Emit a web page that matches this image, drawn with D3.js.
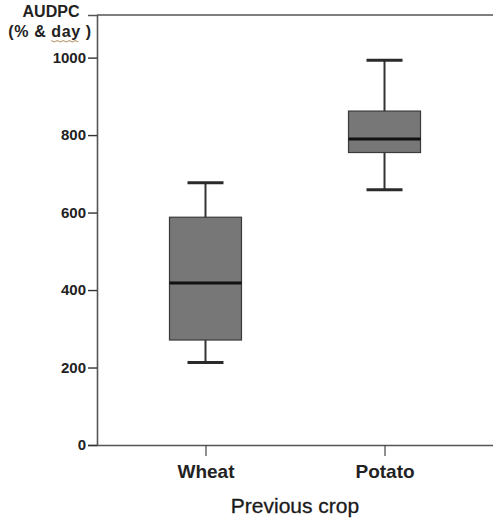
<!DOCTYPE html>
<html>
<head>
<meta charset="utf-8">
<script src="https://cdn.jsdelivr.net/npm/d3@7"></script>
<style>
  body { margin: 0; background: #fff; }
  svg { display: block; font-family: "Liberation Sans", Arial, sans-serif; }
</style>
</head>
<body>
<div id="chart"></div>
<script>
// box plot statistics
var crops   = ["Wheat", "Potato"];
var whiskLo = [213, 659];
var q1      = [271, 755];
var median  = [418, 790];
var q3      = [588, 862];
var whiskHi = [677, 993];
var yTicks  = [0, 200, 400, 600, 800, 1000];

var W = 493, H = 522;
var margin = {top: 15, right: 0, bottom: 77, left: 97},
  width = W - margin.left - margin.right,
  height = H - margin.top - margin.bottom;

var svg = d3.select("#chart")
  .append("svg")
    .attr("width", W)
    .attr("height", H)
  .append("g")
    .attr("transform", "translate(" + margin.left + "," + margin.top + ")");

var x = d3.scalePoint()
  .domain(crops)
  .range([0, width])
  .padding(0.606);

var y = d3.scaleLinear()
  .domain([0, 1110])
  .range([height, 0]);

var boxW = 72, capW = 36;
var axisCol = "#555";

// frame: top line
svg.append("line")
  .attr("x1", 0).attr("x2", width)
  .attr("y1", 0).attr("y2", 0)
  .style("stroke", axisCol).style("stroke-width", 1.6);

// y axis
var yAxis = svg.append("g")
  .call(d3.axisLeft(y).tickValues(yTicks).tickSize(9).tickPadding(2).tickFormat(d3.format("d")));
yAxis.select(".domain").style("stroke", axisCol).style("stroke-width", 1.6);
yAxis.selectAll(".tick line").style("stroke", "#333").style("stroke-width", 1.4);
yAxis.selectAll("text")
  .style("font-size", "15px").style("font-weight", "bold").style("fill", "#222")
  .style("font-family", "Liberation Sans, Arial, sans-serif");

// x axis
var xAxis = svg.append("g")
  .attr("transform", "translate(0," + height + ")")
  .call(d3.axisBottom(x).tickSize(11).tickSizeOuter(0).tickPadding(9));
xAxis.select(".domain").style("stroke", axisCol).style("stroke-width", 1.6);
xAxis.selectAll(".tick line").style("stroke", "#444").style("stroke-width", 1.2);
xAxis.selectAll("text")
  .style("font-size", "19px").style("font-weight", "bold").style("fill", "#222")
  .style("font-family", "Liberation Sans, Arial, sans-serif");

// boxes
var data = crops.map(function(c, i) {
  return {crop: c, lo: whiskLo[i], q1: q1[i], med: median[i], q3: q3[i], hi: whiskHi[i]};
});

var g = svg.selectAll(".box")
  .data(data)
  .enter()
  .append("g")
    .attr("class", "box")
    .attr("transform", function(d) { return "translate(" + x(d.crop) + ",0)"; });

// whisker stems
g.append("line")
  .attr("y1", function(d) { return y(d.lo); })
  .attr("y2", function(d) { return y(d.hi); })
  .style("stroke", "#333").style("stroke-width", 2);

// caps
g.selectAll(".cap")
  .data(function(d) { return [d.lo, d.hi]; })
  .enter()
  .append("line")
    .attr("x1", -capW / 2).attr("x2", capW / 2)
    .attr("y1", function(v) { return y(v); })
    .attr("y2", function(v) { return y(v); })
    .style("stroke", "#2a2a2a").style("stroke-width", 3);

g.append("rect")
  .attr("x", -boxW / 2)
  .attr("width", boxW)
  .attr("y", function(d) { return y(d.q3); })
  .attr("height", function(d) { return y(d.q1) - y(d.q3); })
  .style("fill", "#777")
  .style("stroke", "#3a3a3a")
  .style("stroke-width", 1.2);

g.append("line")
  .attr("x1", -boxW / 2).attr("x2", boxW / 2)
  .attr("y1", function(d) { return y(d.med); })
  .attr("y2", function(d) { return y(d.med); })
  .style("stroke", "#111").style("stroke-width", 3);

// axis titles
var root = d3.select("#chart svg");
root.append("text")
  .attr("x", 51).attr("y", 17)
  .attr("text-anchor", "middle")
  .style("font-size", "16px").style("font-weight", "bold").style("fill", "#222")
  .text("AUDPC");

var sub = root.append("text")
  .attr("x", 50).attr("y", 37)
  .attr("text-anchor", "middle")
  .style("font-size", "16px").style("font-weight", "bold").style("fill", "#222")
  .style("letter-spacing", "0.6px")
  .text("(% & day )");

// wavy spell-check underline beneath "day" (chars 5..7)
var c0 = sub.node().getExtentOfChar(5),
    c1 = sub.node().getExtentOfChar(7);
var x0 = c0.x, x1 = c1.x + c1.width;
var wave = d3.range(0, Math.floor((x1 - x0) / 3) + 1).map(function(i) {
  return [x0 + i * 3, 40.5 + (i % 2 ? 1.5 : 0)];
});
root.append("path")
  .attr("d", d3.line()(wave))
  .style("fill", "none").style("stroke", "#b89a70").style("stroke-width", 1.1);

root.append("text")
  .attr("x", margin.left + width / 2)
  .attr("y", 513)
  .attr("text-anchor", "middle")
  .style("font-size", "21px").style("fill", "#1a1a1a")
  .style("stroke", "#1a1a1a").style("stroke-width", 0.3)
  .text("Previous crop");
</script>
</body>
</html>
